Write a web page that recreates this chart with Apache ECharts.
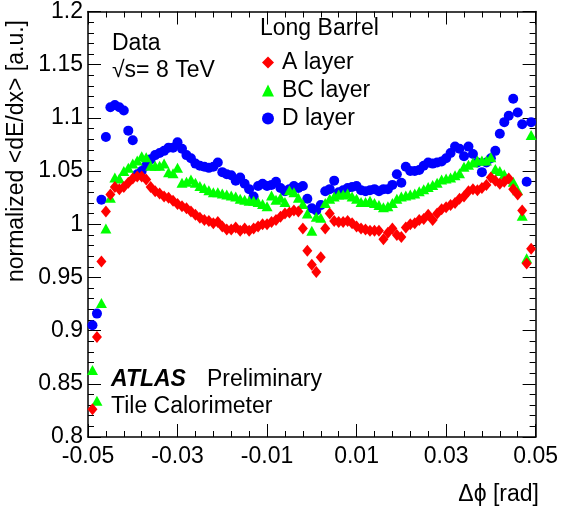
<!DOCTYPE html>
<html><head><meta charset="utf-8">
<script src="https://cdn.jsdelivr.net/npm/echarts@6/dist/echarts.min.js"></script>
<style>html,body{margin:0;padding:0;background:#fff}#c{width:561px;height:518px}</style>
</head><body><div id="c"></div>
<script>
// bin centres (rad)
const binCenters = [
-0.049,-0.048,-0.047,-0.046,-0.045,-0.044,-0.043,-0.042,-0.041,-0.040,
-0.039,-0.038,-0.037,-0.036,-0.035,-0.034,-0.033,-0.032,-0.031,-0.030,
-0.029,-0.028,-0.027,-0.026,-0.025,-0.024,-0.023,-0.022,-0.021,-0.020,
-0.019,-0.018,-0.017,-0.016,-0.015,-0.014,-0.013,-0.012,-0.011,-0.010,
-0.009,-0.008,-0.007,-0.006,-0.005,-0.004,-0.003,-0.002,-0.001,0.000,
0.001,0.002,0.003,0.004,0.005,0.006,0.007,0.008,0.009,0.010,
0.011,0.012,0.013,0.014,0.015,0.016,0.017,0.018,0.019,0.020,
0.021,0.022,0.023,0.024,0.025,0.026,0.027,0.028,0.029,0.030,
0.031,0.032,0.033,0.034,0.035,0.036,0.037,0.038,0.039,0.040,
0.041,0.042,0.043,0.044,0.045,0.046,0.047,0.048,0.049];

const aLayer = [
0.826,0.894,0.965,1.012,1.028,1.035,1.033,1.035,1.039,1.043,
1.045,1.045,1.042,1.035,1.031,1.029,1.026,1.025,1.022,1.019,
1.017,1.015,1.012,1.009,1.006,1.004,1.003,1.001,1.002,0.998,
0.995,0.995,0.997,0.994,0.996,0.994,0.996,0.998,1.000,1.000,
1.002,1.004,1.007,1.010,1.011,1.013,1.012,0.996,0.975,0.962,
0.955,0.969,0.996,1.010,1.003,1.002,1.002,1.003,1.001,0.998,
0.996,0.995,0.994,0.994,0.994,0.986,0.992,0.996,0.990,0.988,
0.997,1.000,1.001,1.004,1.005,1.009,1.004,1.010,1.014,1.016,
1.018,1.020,1.024,1.026,1.031,1.033,1.032,1.034,1.037,1.044,
1.041,1.038,1.040,1.043,1.033,1.028,1.013,0.963,0.977];

const bcLayer = [
0.863,0.834,0.926,0.996,1.025,1.044,1.043,1.050,1.053,1.057,
1.060,1.064,1.063,1.055,1.055,1.055,1.057,1.049,1.048,1.053,
1.039,1.040,1.042,1.039,1.036,1.034,1.032,1.030,1.030,1.029,
1.028,1.027,1.026,1.024,1.023,1.022,1.022,1.021,1.019,1.017,
1.027,1.023,1.025,1.021,1.032,1.030,1.025,1.019,1.010,0.994,
1.007,1.006,1.020,1.024,1.026,1.028,1.028,1.029,1.026,1.024,
1.021,1.021,1.022,1.020,1.018,1.016,1.017,1.020,1.024,1.026,
1.027,1.028,1.029,1.031,1.033,1.035,1.037,1.039,1.042,1.043,
1.044,1.046,1.048,1.054,1.056,1.058,1.060,1.060,1.060,1.063,
1.052,1.050,1.047,1.043,1.040,1.032,1.008,0.968,1.084];

const dLayer = [
0.905,0.916,1.023,1.082,1.110,1.112,1.110,1.107,1.088,1.079,
1.047,1.050,1.055,1.061,1.065,1.067,1.069,1.072,1.072,1.077,
1.071,1.065,1.062,1.057,1.055,1.054,1.053,1.054,1.058,1.049,
1.047,1.046,1.041,1.044,1.038,1.033,1.026,1.036,1.038,1.036,
1.037,1.040,1.034,1.031,1.033,1.036,1.034,1.036,1.024,1.015,
1.013,1.018,1.031,1.033,1.041,1.030,1.032,1.034,1.035,1.036,
1.032,1.031,1.032,1.033,1.031,1.033,1.033,1.037,1.047,1.039,
1.054,1.050,1.050,1.051,1.055,1.058,1.057,1.058,1.059,1.062,
1.067,1.073,1.071,1.064,1.073,1.066,1.058,1.049,1.058,1.062,
1.069,1.085,1.096,1.102,1.118,1.105,1.094,1.040,1.096];

const seriesNames = ['A layer', 'BC layer', 'D layer'];
const xRange = [-0.05, 0.05];
const yRange = [0.8, 1.2];

const FONT = "'Liberation Sans', Arial, Helvetica, sans-serif";
const FS = 23;
const pts = ys => binCenters.map((x, i) => [x, ys[i]]);

function axisCommon() {
  return {
    axisLine: {show: true, onZero: false, lineStyle: {color: '#000', width: 1.5}},
    axisTick: {show: true, inside: true, length: 13, lineStyle: {color: '#000', width: 1}},
    minorTick: {show: true, splitNumber: 5, length: 6, lineStyle: {color: '#000', width: 1}},
    splitLine: {show: false},
    minorSplitLine: {show: false}
  };
}

const chart = echarts.init(document.getElementById('c'), null, {renderer: 'canvas'});
const option = {
  animation: false,
  backgroundColor: '#fff',
  textStyle: {fontFamily: FONT},
  grid: {left: 88, right: 23, top: 10, bottom: 81, containLabel: false},
  xAxis: [
    Object.assign({
      type: 'value', position: 'bottom', min: xRange[0], max: xRange[1], interval: 0.02,
      axisLabel: {show: true, color: '#000', fontSize: FS, fontFamily: FONT, margin: 8,
        showMinLabel: true, showMaxLabel: true,
        formatter: v => { const s = (+v).toFixed(2); return s === '-0.00' ? '0.00' : s; }}
    }, axisCommon()),
    Object.assign({
      type: 'value', position: 'top', min: xRange[0], max: xRange[1], interval: 0.02,
      axisLabel: {show: false}
    }, axisCommon())
  ],
  yAxis: [
    Object.assign({
      type: 'value', position: 'left', min: yRange[0], max: yRange[1], interval: 0.05,
      axisLabel: {show: true, color: '#000', fontSize: FS, fontFamily: FONT, margin: 5,
        showMinLabel: true, showMaxLabel: true,
        formatter: v => String(+(+v).toFixed(2))}
    }, axisCommon()),
    Object.assign({
      type: 'value', position: 'right', min: yRange[0], max: yRange[1], interval: 0.05,
      axisLabel: {show: false}
    }, axisCommon())
  ],
  legend: {
    orient: 'vertical', left: 262, top: 51, itemGap: 5, itemWidth: 12, itemHeight: 12,
    padding: 0, data: seriesNames,
    textStyle: {fontSize: FS, fontFamily: FONT, color: '#000', lineHeight: 22.5, padding: [0, 0, 0, 3]}
  },
  series: [
    {name: seriesNames[2], type: 'scatter', symbol: 'circle', symbolSize: 10,
     itemStyle: {color: '#0000ff', opacity: 1}, data: pts(dLayer)},
    {name: seriesNames[1], type: 'scatter', symbol: 'triangle', symbolSize: [11, 10],
     itemStyle: {color: '#00ff00', opacity: 1}, data: pts(bcLayer)},
    {name: seriesNames[0], type: 'scatter', symbol: 'diamond', symbolSize: [10, 12],
     itemStyle: {color: '#ff0000', opacity: 1}, data: pts(aLayer)}
  ],
  graphic: [
    {type: 'text', x: 17, y: 20, rotation: Math.PI / 2,
     style: {text: 'normalized <dE/dx> [a.u.]', font: FS + 'px ' + FONT, fill: '#000',
       textAlign: 'right', textVerticalAlign: 'middle'}},
    {type: 'text', x: 539, y: 495,
     style: {text: 'Δϕ [rad]', font: FS + 'px ' + FONT, fill: '#000',
       textAlign: 'right', textVerticalAlign: 'middle'}},
    {type: 'text', x: 112, y: 44,
     style: {text: 'Data', font: FS + 'px ' + FONT, fill: '#000', textAlign: 'left', textVerticalAlign: 'middle'}},
    {type: 'text', x: 112, y: 71,
     style: {text: '√s= 8 TeV', font: FS + 'px ' + FONT, fill: '#000', textAlign: 'left', textVerticalAlign: 'middle'}},
    {type: 'text', x: 260, y: 29,
     style: {text: 'Long Barrel', font: FS + 'px ' + FONT, fill: '#000', textAlign: 'left', textVerticalAlign: 'middle'}},
    {type: 'text', x: 111, y: 380,
     style: {text: 'ATLAS', font: 'italic bold ' + FS + 'px ' + FONT, fill: '#000', textAlign: 'left', textVerticalAlign: 'middle'}},
    {type: 'text', x: 207, y: 380,
     style: {text: 'Preliminary', font: FS + 'px ' + FONT, fill: '#000', textAlign: 'left', textVerticalAlign: 'middle'}},
    {type: 'text', x: 111, y: 407,
     style: {text: 'Tile Calorimeter', font: FS + 'px ' + FONT, fill: '#000', textAlign: 'left', textVerticalAlign: 'middle'}}
  ]
};
chart.setOption(option);
</script></body></html>
